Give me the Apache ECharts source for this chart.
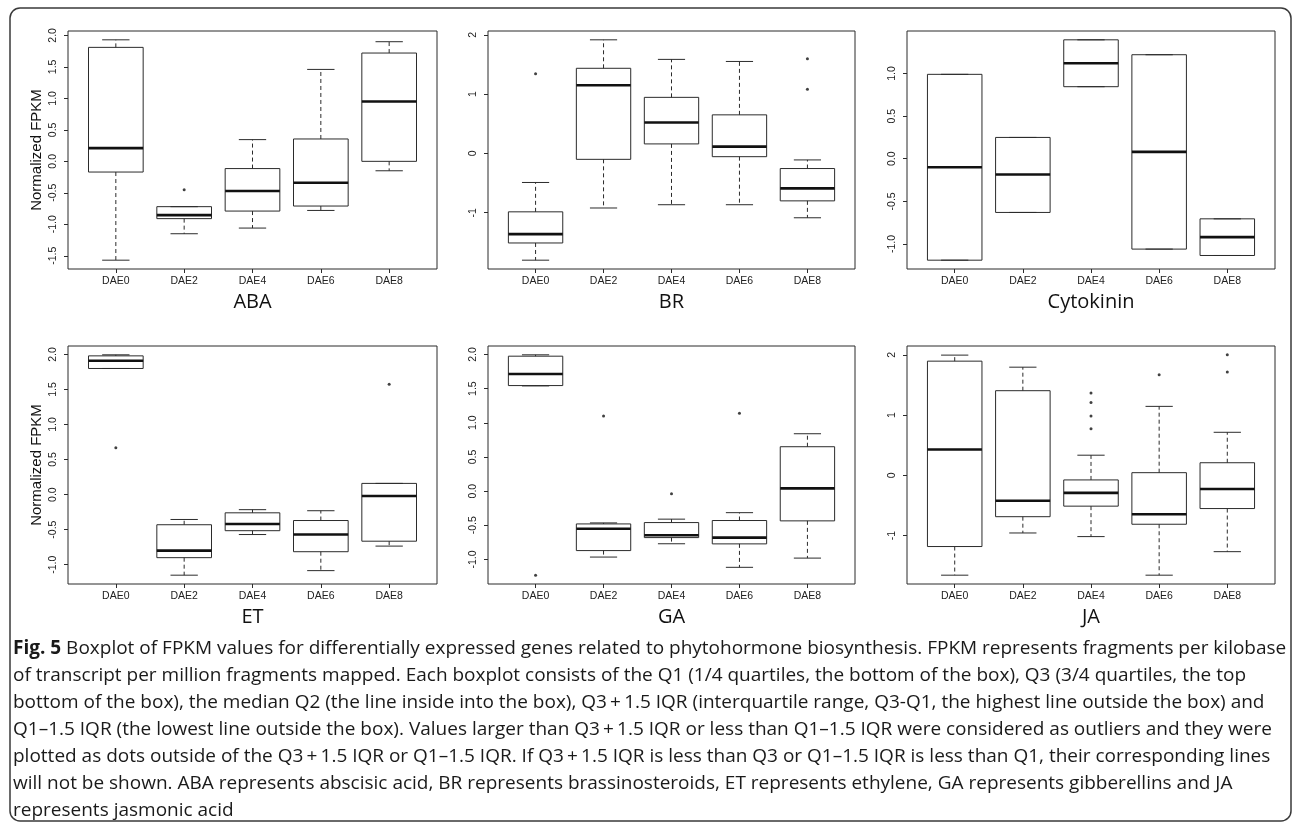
<!DOCTYPE html>
<html>
<head>
<meta charset="utf-8">
<script src="https://cdn.jsdelivr.net/npm/echarts@6/dist/echarts.min.js"></script>
<style>
  html, body { margin: 0; padding: 0; background: #fff; }
  #chart { width: 1295px; height: 827px; }
</style>
</head>
<body>
<div id="chart"></div>
<script>
// Sampling days (x categories shared by every panel)
const categories = ['DAE0', 'DAE2', 'DAE4', 'DAE6', 'DAE8'];

// Panel titles
const panelNames = ['ABA', 'BR', 'Cytokinin', 'ET', 'GA', 'JA'];

// Box statistics per category: [lower whisker, Q1, median, Q3, upper whisker]
const abaStats = [
  [-1.57, -0.17, 0.21, 1.81, 1.93],
  [-1.15, -0.91, -0.855, -0.72, -0.72],
  [-1.06, -0.79, -0.47, -0.115, 0.345],
  [-0.78, -0.71, -0.34, 0.355, 1.46],
  [-0.15, 0.0, 0.95, 1.72, 1.90]
];
const abaOutliers = [['DAE2', -0.45]];

const brStats = [
  [-1.80, -1.51, -1.36, -0.985, -0.49],
  [-0.92, -0.10, 1.15, 1.435, 1.915],
  [-0.865, 0.16, 0.52, 0.945, 1.585],
  [-0.865, -0.055, 0.115, 0.65, 1.55],
  [-1.085, -0.80, -0.59, -0.255, -0.11]
];
const brOutliers = [['DAE0', 1.345], ['DAE8', 1.595], ['DAE8', 1.08]];

const cytokininStats = [
  [-1.19, -1.19, -0.10, 0.99, 0.99],
  [-0.63, -0.63, -0.185, 0.25, 0.25],
  [0.845, 0.845, 1.12, 1.395, 1.395],
  [-1.06, -1.06, 0.08, 1.22, 1.22],
  [-1.135, -1.135, -0.92, -0.705, -0.705]
];
const cytokininOutliers = [];

const etStats = [
  [1.80, 1.80, 1.91, 1.98, 1.995],
  [-1.15, -0.90, -0.80, -0.43, -0.355],
  [-0.57, -0.515, -0.42, -0.26, -0.215],
  [-1.085, -0.815, -0.57, -0.37, -0.23],
  [-0.735, -0.665, -0.02, 0.16, 0.16]
];
const etOutliers = [['DAE0', 0.67], ['DAE8', 1.575]];

const gaStats = [
  [1.54, 1.545, 1.715, 1.975, 1.995],
  [-0.965, -0.87, -0.55, -0.48, -0.465],
  [-0.77, -0.68, -0.645, -0.46, -0.41],
  [-1.115, -0.772, -0.68, -0.43, -0.315],
  [-0.98, -0.435, 0.04, 0.65, 0.84]
];
const gaOutliers = [['DAE0', -1.23], ['DAE2', 1.10], ['DAE4', -0.04], ['DAE6', 1.14]];

const jaStats = [
  [-1.655, -1.18, 0.43, 1.895, 1.995],
  [-0.955, -0.685, -0.42, 1.405, 1.795],
  [-1.015, -0.51, -0.29, -0.075, 0.335],
  [-1.655, -0.81, -0.645, 0.045, 1.145],
  [-1.265, -0.55, -0.225, 0.21, 0.715]
];
const jaOutliers = [
  ['DAE4', 1.365], ['DAE4', 1.21], ['DAE4', 0.985], ['DAE4', 0.775],
  ['DAE6', 1.67], ['DAE8', 2.0], ['DAE8', 1.715]
];

// y tick labels per panel
const abaTicks = ['-1.5', '-1.0', '-0.5', '0.0', '0.5', '1.0', '1.5', '2.0'];
const brTicks = ['-1', '0', '1', '2'];
const cytokininTicks = ['-1.0', '-0.5', '0.0', '0.5', '1.0', '1.5'];
const etTicks = ['-1.0', '-0.5', '0.0', '0.5', '1.0', '1.5', '2.0'];
const gaTicks = ['-1.0', '-0.5', '0.0', '0.5', '1.0', '1.5', '2.0'];
const jaTicks = ['-1', '0', '1', '2'];

const yLabelText = 'Normalized FPKM';

const captionLines = [
  '{b|Fig. 5} Boxplot of FPKM values for differentially expressed genes related to phytohormone biosynthesis. FPKM represents fragments per kilobase',
  'of transcript per million fragments mapped. Each boxplot consists of the Q1 (1/4 quartiles, the bottom of the box), Q3 (3/4 quartiles, the top',
  'bottom of the box), the median Q2 (the line inside into the box), Q3\u2009+\u20091.5 IQR (interquartile range, Q3-Q1, the highest line outside the box) and',
  'Q1\u20131.5 IQR (the lowest line outside the box). Values larger than Q3\u2009+\u20091.5 IQR or less than Q1\u20131.5 IQR were considered as outliers and they were',
  'plotted as dots outside of the Q3\u2009+\u20091.5 IQR or Q1\u20131.5 IQR. If Q3\u2009+\u20091.5 IQR is less than Q3 or Q1\u20131.5 IQR is less than Q1, their corresponding lines',
  'will not be shown. ABA represents abscisic acid, BR represents brassinosteroids, ET represents ethylene, GA represents gibberellins and JA',
  'represents jasmonic acid'
];

// ---- layout ----
const colLeft = [68, 488, 907];
const colWidth = [369, 367, 368];
const rowTop = [31, 346];
const rowHeight = [238, 238];
const titleY = [302, 617];

const panels = [
  { stats: abaStats, outliers: abaOutliers, ticks: abaTicks },
  { stats: brStats, outliers: brOutliers, ticks: brTicks },
  { stats: cytokininStats, outliers: cytokininOutliers, ticks: cytokininTicks },
  { stats: etStats, outliers: etOutliers, ticks: etTicks },
  { stats: gaStats, outliers: gaOutliers, ticks: gaTicks },
  { stats: jaStats, outliers: jaOutliers, ticks: jaTicks }
];

const AXIS_FONT = '"Liberation Sans", Arial, Helvetica, sans-serif';
const TEXT_FONT = '"Open Sans", "Noto Sans", sans-serif';
const INK = '#2b2b2b';
const BOX_W = 0.8;     // box width in x units
const CAP_W = 0.4;     // whisker cap width in x units
const catPos = categories.map((c, i) => i + 1);

// R-style range: data extent padded by 4% each side
function paddedRange(stats, outliers) {
  const vals = stats.flat().concat(outliers.map(o => o[1]));
  const lo = Math.min(...vals), hi = Math.max(...vals);
  const pad = (hi - lo) * 0.04;
  return [lo - pad, hi + pad];
}

function renderBox(params, api) {
  const x = api.value(0);
  const lo = api.value(1), q1 = api.value(2), md = api.value(3), q3 = api.value(4), hi = api.value(5);
  const p = (a, b) => api.coord([a, b]);
  const thin = { stroke: INK, lineWidth: 1 };
  const dashed = { stroke: INK, lineWidth: 1, lineDash: [4, 3] };
  const seg = (a, b, style) => ({
    type: 'line',
    shape: { x1: a[0], y1: a[1], x2: b[0], y2: b[1] },
    style: style
  });
  const tl = p(x - BOX_W / 2, q3);
  const br = p(x + BOX_W / 2, q1);
  return {
    type: 'group',
    children: [
      seg(p(x, q3), p(x, hi), dashed),
      seg(p(x, q1), p(x, lo), dashed),
      seg(p(x - CAP_W / 2, hi), p(x + CAP_W / 2, hi), thin),
      seg(p(x - CAP_W / 2, lo), p(x + CAP_W / 2, lo), thin),
      {
        type: 'rect',
        shape: { x: tl[0], y: tl[1], width: br[0] - tl[0], height: br[1] - tl[1] },
        style: { fill: 'none', stroke: INK, lineWidth: 1 }
      },
      seg(p(x - BOX_W / 2, md), p(x + BOX_W / 2, md), { stroke: '#111', lineWidth: 2.6 })
    ]
  };
}

const grid = [], xAxis = [], yAxis = [], series = [], graphic = [];

panels.forEach((pn, i) => {
  const col = i % 3, row = Math.floor(i / 3);
  const range = paddedRange(pn.stats, pn.outliers);
  const tickVals = pn.ticks.map(Number);
  grid.push({
    left: colLeft[col], top: rowTop[row], width: colWidth[col], height: rowHeight[row],
    show: true, borderColor: INK, borderWidth: 1, backgroundColor: 'transparent'
  });
  xAxis.push({
    gridIndex: i, type: 'value', min: 0.3, max: 5.7, position: 'bottom',
    splitLine: { show: false }, axisLine: { show: false, onZero: false },
    axisTick: { show: true, length: 4, customValues: catPos, lineStyle: { color: INK } },
    axisLabel: {
      customValues: catPos, margin: 7, fontSize: 10.5, fontFamily: AXIS_FONT, color: '#222',
      formatter: v => categories[Math.round(v) - 1]
    }
  });
  const yAx = {
    gridIndex: i, type: 'value', min: range[0], max: range[1], position: 'left',
    splitLine: { show: false }, axisLine: { show: false, onZero: false },
    axisTick: { show: true, length: 4, customValues: tickVals, lineStyle: { color: INK } },
    axisLabel: {
      customValues: tickVals, rotate: 90, margin: 9, fontSize: 10.5, fontFamily: AXIS_FONT, color: '#222',
      formatter: v => {
        const k = tickVals.findIndex(t => Math.abs(t - v) < 1e-6);
        return k >= 0 ? pn.ticks[k] : '';
      }
    }
  };
  if (col === 0) {
    Object.assign(yAx, {
      name: yLabelText, nameLocation: 'middle', nameRotate: 90, nameGap: 24,
      nameTextStyle: { fontSize: 15, fontFamily: AXIS_FONT, color: '#111' }
    });
  }
  yAxis.push(yAx);

  series.push({
    type: 'custom',
    xAxisIndex: i, yAxisIndex: i,
    renderItem: renderBox,
    encode: { x: 0, y: [1, 2, 3, 4, 5] },
    data: pn.stats.map((s, k) => [catPos[k]].concat(s)),
    silent: true,
    z: 2
  });
  series.push({
    type: 'scatter',
    xAxisIndex: i, yAxisIndex: i,
    symbol: 'circle', symbolSize: 3,
    itemStyle: { color: '#111' },
    data: pn.outliers.map(o => [categories.indexOf(o[0]) + 1, o[1]]),
    silent: true,
    z: 3
  });

  graphic.push({
    type: 'text',
    x: colLeft[col] + colWidth[col] / 2, y: titleY[row],
    style: {
      text: panelNames[i], align: 'center', verticalAlign: 'middle',
      font: '20px ' + TEXT_FONT, fill: '#111'
    }
  });
});

// outer rounded frame
graphic.push({
  type: 'rect',
  shape: { x: 10, y: 8, width: 1281, height: 813, r: 10 },
  style: { fill: 'none', stroke: '#3a3a3a', lineWidth: 1.5 },
  z: -1
});

// figure caption
graphic.push({
  type: 'text',
  x: 13, y: 635.5,
  style: {
    text: captionLines.join('\n'),
    align: 'left', verticalAlign: 'top',
    fontFamily: TEXT_FONT, fontSize: 19, lineHeight: 27, fill: '#1a1a1a',
    rich: {
      b: { fontFamily: TEXT_FONT, fontSize: 19, fontWeight: 'bold', lineHeight: 27, fill: '#1a1a1a' }
    }
  }
});

const chart = echarts.init(document.getElementById('chart'), null, { renderer: 'canvas' });
chart.setOption({
  backgroundColor: '#fff',
  animation: false,
  grid, xAxis, yAxis, series, graphic
});
</script>
</body>
</html>
